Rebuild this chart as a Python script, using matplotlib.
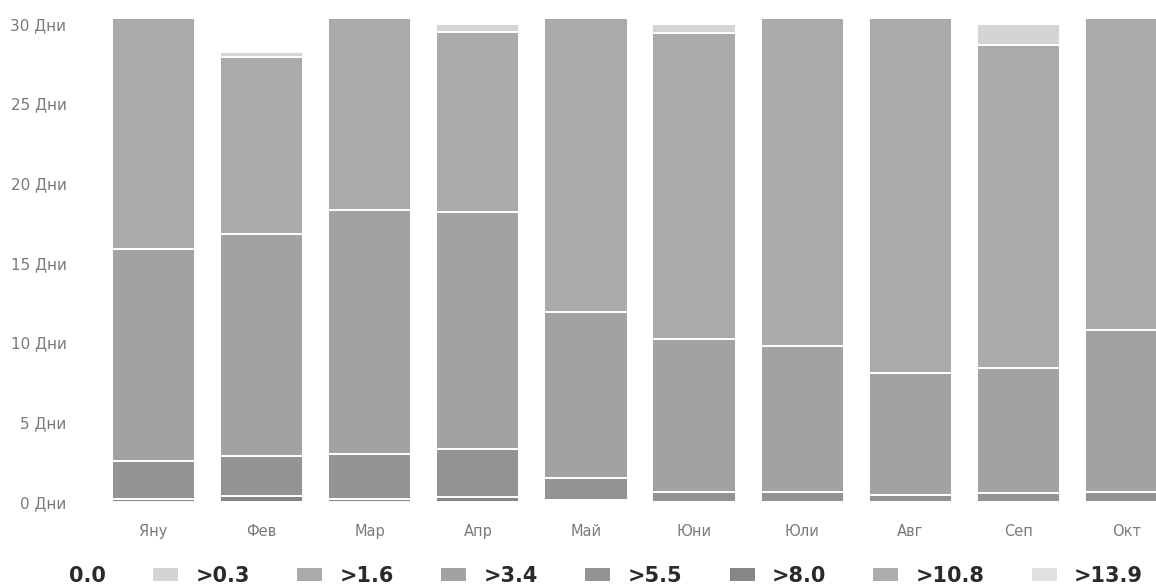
import matplotlib
matplotlib.use("Agg")
import matplotlib.pyplot as plt
from matplotlib.patches import Patch
import numpy as np

months = ["Яну", "Фев", "Мар", "Апр", "Май", "Юни", "Юли", "Авг", "Сеп", "Окт"]
# days per month in each wind-speed class (m/s), stacked bottom -> top
w_8_0 = [0.2, 0.35, 0.2, 0.3, 0.15, 0.0, 0.0, 0.0, 0.0, 0.0]
w_5_5 = [2.35, 2.55, 2.8, 3.0, 1.35, 0.6, 0.6, 0.45, 0.55, 0.6]
w_3_4 = [13.35, 13.9, 15.3, 14.9, 10.4, 9.6, 9.2, 7.65, 7.85, 10.2]
w_1_6 = [14.7, 11.1, 12.4, 11.3, 18.8, 19.25, 20.9, 22.6, 20.3, 19.9]
w_0_3 = [0.4, 0.35, 0.3, 0.5, 0.3, 0.55, 0.3, 0.3, 1.3, 0.3]

legend_labels = ["0.0", ">0.3", ">1.6", ">3.4", ">5.5", ">8.0", ">10.8", ">13.9"]
yticks = [0, 5, 10, 15, 20, 25, 30]

colors = {
    "0.0": "#ffffff",
    ">0.3": "#d4d4d4",
    ">1.6": "#aaaaaa",
    ">3.4": "#a2a2a2",
    ">5.5": "#939393",
    ">8.0": "#868686",
    ">10.8": "#acacac",
    ">13.9": "#e0e0e0",
}

W, H = 1156, 588
fig = plt.figure(figsize=(W / 100, H / 100), dpi=100)
L, R, B, T = 72, 1156, 86, 569
ax = fig.add_axes([L / W, B / H, (R - L) / W, (T - B) / H])

x = np.arange(len(months))
stack = [(">8.0", w_8_0), (">5.5", w_5_5), (">3.4", w_3_4), (">1.6", w_1_6), (">0.3", w_0_3)]
bottom = np.zeros(len(months))
for name, vals in stack:
    v = np.array(vals)
    ax.bar(x, v, bottom=bottom, width=0.77, color=colors[name],
           edgecolor="white", linewidth=1.4)
    bottom += v

ax.set_xlim(-0.754, 9.273)
ax.set_ylim(0, 30.3)
ax.set_xticks(x)
ax.set_xticklabels(months)
ax.set_yticks(yticks)
ax.set_yticklabels([f"{t} Дни" for t in yticks])
ax.tick_params(axis="x", length=0, pad=16, labelsize=10.5, labelcolor="#7a7a7a")
ax.tick_params(axis="y", length=0, pad=4, labelsize=11, labelcolor="#7a7a7a")
for s in ax.spines.values():
    s.set_visible(False)
ax.grid(False)

handles = [Patch(facecolor=colors[l], edgecolor="none") for l in legend_labels]
leg = fig.legend(handles, legend_labels, loc="center left", ncol=8,
                 bbox_to_anchor=(27 / W, 12 / H), bbox_transform=fig.transFigure,
                 frameon=False, borderpad=0, borderaxespad=0,
                 handlelength=1.2, handleheight=0.6,
                 handletextpad=0.82, columnspacing=2.28,
                 prop={"weight": "bold", "size": 15})
for t in leg.get_texts():
    t.set_color("#2a2a2a")

fig.savefig("out.png", dpi=100)
